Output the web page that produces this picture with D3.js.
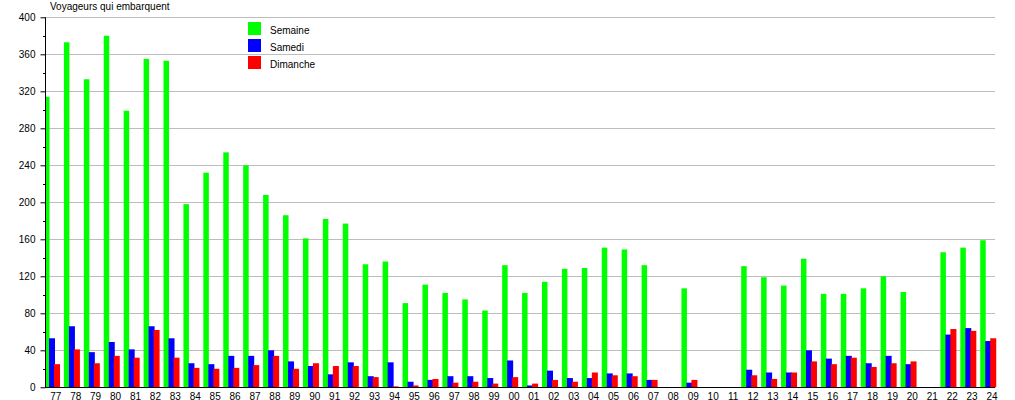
<!DOCTYPE html>
<html>
<head>
<meta charset="utf-8">
<script src="https://cdn.jsdelivr.net/npm/d3@7"></script>
<style>
  body { margin: 0; background: #fff; }
  svg { display: block; font-family: "Liberation Sans", Arial, sans-serif; }
</style>
</head>
<body>
<div id="chart"></div>
<script>
const categories = ["77","78","79","80","81","82","83","84","85","86","87","88","89","90","91","92","93","94","95","96","97","98","99",
  "00","01","02","03","04","05","06","07","08","09","10","11","12","13","14","15","16","17","18","19","20","21","22","23","24"];

const semaine = [314,373,333,380,299,355,353,198,232,254,240,208,186,161,182,177,133,136,91,111,102,95,83,
  132,102,114,128,129,151,149,132,0,107,0,0,131,119,110,139,101,101,107,120,103,0,146,151,159];
const samedi = [53,66,38,49,41,66,53,26,25,34,34,40,28,23,14,27,12,27,6,8,12,12,10,
  29,2,18,10,10,15,15,8,0,5,0,0,19,16,16,40,31,34,26,34,25,0,57,64,50];
const dimanche = [25,41,26,34,32,62,32,21,20,21,24,34,20,26,23,23,11,1,2,9,5,6,4,
  11,4,8,6,16,13,12,8,0,8,0,0,13,9,16,28,25,32,22,26,28,0,63,61,53];

const yTicks = [0,40,80,120,160,200,240,280,320,360,400];
const seriesNames = ["Semaine","Samedi","Dimanche"];
const seriesColors = ["#00ff00","#0000ff","#ff0000"];

const width = 1015, height = 400;
const plotLeft = 45, plotRight = 995, plotTop = 17.3, plotBottom = 387.3;

const svg = d3.select("#chart").append("svg")
  .attr("width", width)
  .attr("height", height);

svg.append("clipPath")
  .attr("id", "plot-clip")
  .append("rect")
  .attr("x", plotLeft)
  .attr("y", 0)
  .attr("width", width - plotLeft)
  .attr("height", height);

const x = d3.scaleBand()
  .domain(categories)
  .range([44, 44 + categories.length * 19.92])
  .padding(0);

const y = d3.scaleLinear()
  .domain([0, 400])
  .range([plotBottom, plotTop]);

// gridlines
svg.append("g")
  .selectAll("line")
  .data(yTicks.filter(t => t > 0))
  .join("line")
  .attr("x1", plotLeft)
  .attr("x2", plotRight)
  .attr("y1", d => Math.round(y(d)) + 0.5)
  .attr("y2", d => Math.round(y(d)) + 0.5)
  .attr("stroke", "#bdbdbd")
  .attr("stroke-width", 1);

// bars: offset and width inside each group
const barSpec = [
  { values: semaine, dx: 0, w: 5.5 },
  { values: samedi, dx: 5, w: 6 },
  { values: dimanche, dx: 10, w: 6 }
];

const barsG = svg.append("g").attr("clip-path", "url(#plot-clip)");

barSpec.forEach((s, i) => {
  barsG.append("g")
    .attr("fill", seriesColors[i])
    .selectAll("rect")
    .data(categories)
    .join("rect")
    .attr("x", (c) => x(c) + s.dx)
    .attr("width", s.w)
    .attr("y", (c, j) => y(s.values[j]))
    .attr("height", (c, j) => y(0) - y(s.values[j]));
});

// y axis
const yAxis = d3.axisLeft(y)
  .tickValues(yTicks)
  .tickSize(5)
  .tickPadding(5)
  .tickFormat(d3.format("d"));

const yG = svg.append("g")
  .attr("transform", `translate(${plotLeft + 0.5},0)`)
  .call(yAxis);
yG.select(".domain").attr("stroke", "#000").attr("d", `M0,${plotTop}V${plotBottom}`);
yG.selectAll(".tick line").attr("stroke", "#000");
yG.selectAll(".tick text")
  .attr("font-size", "10px")
  .attr("fill", "#000")
  .attr("font-family", "Liberation Sans, Arial, sans-serif");

// minor ticks
svg.append("g")
  .selectAll("line")
  .data(d3.range(20, 400, 40))
  .join("line")
  .attr("x1", plotLeft - 2)
  .attr("x2", plotLeft)
  .attr("y1", d => Math.round(y(d)) + 0.5)
  .attr("y2", d => Math.round(y(d)) + 0.5)
  .attr("stroke", "#000");

// x axis line
svg.append("line")
  .attr("x1", plotLeft)
  .attr("x2", plotRight)
  .attr("y1", Math.round(plotBottom) + 0.5)
  .attr("y2", Math.round(plotBottom) + 0.5)
  .attr("stroke", "#000");

// x labels
svg.append("g")
  .selectAll("text")
  .data(categories)
  .join("text")
  .attr("x", c => x(c) + 11.8)
  .attr("y", 399.5)
  .attr("text-anchor", "middle")
  .attr("font-size", "10px")
  .attr("fill", "#000")
  .text(c => c);

// title
svg.append("text")
  .attr("x", 50)
  .attr("y", 9.5)
  .attr("font-size", "10px")
  .attr("fill", "#000")
  .text("Voyageurs qui embarquent");

// legend
const legend = svg.append("g")
  .selectAll("g")
  .data(seriesNames)
  .join("g")
  .attr("transform", (d, i) => `translate(248,${22 + i * 17})`);

legend.append("rect")
  .attr("width", 13)
  .attr("height", 13)
  .attr("fill", (d, i) => seriesColors[i]);

legend.append("text")
  .attr("x", 22)
  .attr("y", 11.5)
  .attr("font-size", "10px")
  .attr("fill", "#000")
  .text(d => d);
</script>
</body>
</html>
